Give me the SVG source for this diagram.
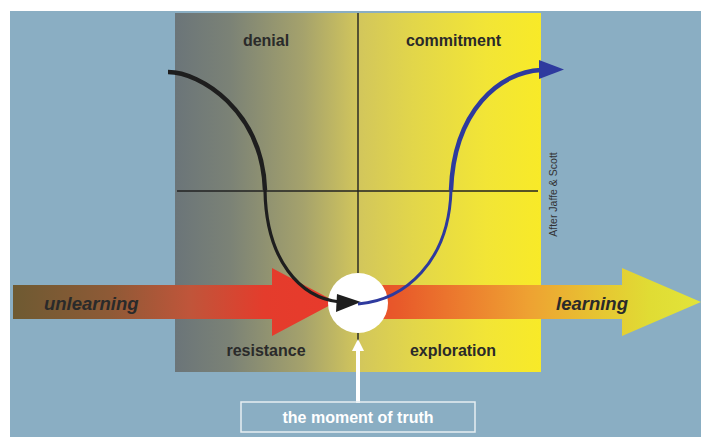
<svg xmlns="http://www.w3.org/2000/svg" width="701" height="437" viewBox="0 0 701 437">
<style>
.lbl{font-family:"Liberation Sans",Arial,sans-serif;font-weight:bold;font-size:16px;fill:#2a2a2a;text-anchor:middle}
.arr{font-family:"Liberation Sans",Arial,sans-serif;font-weight:bold;font-style:italic;font-size:18.5px;fill:#2a2a2a}
.axis{stroke:#222;stroke-width:1.4;fill:none}
.blk{fill:none;stroke:#1e1e1e}
.blu{fill:none;stroke:#2e3a9e}
</style>
<defs>
<linearGradient id="bgGrad" x1="175" y1="0" x2="541" y2="0" gradientUnits="userSpaceOnUse">
<stop offset="0" stop-color="#6b7579"/>
<stop offset="0.15" stop-color="#7b8276"/>
<stop offset="0.35" stop-color="#a5a26c"/>
<stop offset="0.5" stop-color="#d2c65c"/>
<stop offset="0.65" stop-color="#e2d64a"/>
<stop offset="0.85" stop-color="#f2e536"/>
<stop offset="1" stop-color="#f8ea28"/>
</linearGradient>
<linearGradient id="unGrad" x1="13" y1="0" x2="335" y2="0" gradientUnits="userSpaceOnUse">
<stop offset="0" stop-color="#6e5a32"/>
<stop offset="0.3" stop-color="#8e5a36"/>
<stop offset="0.55" stop-color="#c0553a"/>
<stop offset="0.78" stop-color="#e43c2c"/>
<stop offset="1" stop-color="#e83a2c"/>
</linearGradient>
<linearGradient id="lnGrad" x1="358" y1="0" x2="701" y2="0" gradientUnits="userSpaceOnUse">
<stop offset="0" stop-color="#e8482a"/>
<stop offset="0.12" stop-color="#e85a2a"/>
<stop offset="0.3" stop-color="#ec7c2e"/>
<stop offset="0.5" stop-color="#eea232"/>
<stop offset="0.72" stop-color="#e6c832"/>
<stop offset="0.85" stop-color="#e0dc34"/>
<stop offset="1" stop-color="#e2e43a"/>
</linearGradient>
</defs>
<rect x="0" y="0" width="701" height="437" fill="#ffffff"/>
<rect x="10" y="11" width="691" height="426" fill="#8aaec3"/>
<g id="field">
<rect x="175" y="13" width="366" height="359" fill="url(#bgGrad)"/>
</g>
<g id="axes">
<line class="axis" x1="358" y1="13" x2="358" y2="345"/>
<line class="axis" x1="177" y1="191" x2="538" y2="191"/>
</g>
<g id="unlearning">
<polygon points="13,285 272,285 272,268 336,302 272,336 272,319 13,319" fill="url(#unGrad)"/>
<text class="arr" x="44" y="310">unlearning</text>
</g>
<g id="learning">
<polygon points="358,285 622,285 622,268 701,302 622,336 622,319 358,319" fill="url(#lnGrad)"/>
<text class="arr" x="556" y="310">learning</text>
</g>
<g id="moment">
<circle cx="358" cy="303" r="30" fill="#ffffff"/>
</g>
<g id="connectors">
<path class="blk" d="M168 72 C200 72 262 110 265 190" stroke-width="4.5"/>
<path class="blk" d="M265 190 C266 260 300 298 340 302" stroke-width="3.2"/>
<polygon points="337,294 361,302 336,312" fill="#1e1e1e"/>
<path class="blu" d="M358 304 C405 300 449 262 451 190" stroke-width="3"/>
<path class="blu" d="M451 190 C454 110 500 72 541 70" stroke-width="4.5"/>
<polygon points="539,60 564,69.5 539,79" fill="#2e3a9e"/>
</g>
<g id="labels">
<text class="lbl" x="266" y="46">denial</text>
<text class="lbl" x="453.5" y="46">commitment</text>
<text class="lbl" x="266" y="356">resistance</text>
<text class="lbl" x="453" y="356">exploration</text>
<text x="557" y="194.5" transform="rotate(-90 557 194.5)" font-family="Liberation Sans, Arial, sans-serif" font-size="10.5" fill="#333" text-anchor="middle">After Jaffe &amp; Scott</text>
</g>
<g id="truth">
<rect x="356" y="349" width="4" height="54" fill="#ffffff"/>
<polygon points="352,351 358,339 364,351" fill="#ffffff"/>
<rect x="241" y="402" width="234" height="30" fill="none" stroke="#e6eef2" stroke-width="1.5"/>
<text x="358" y="423" font-family="Liberation Sans, Arial, sans-serif" font-weight="bold" font-size="16" fill="#ffffff" text-anchor="middle">the moment of truth</text>
</g>
</svg>
